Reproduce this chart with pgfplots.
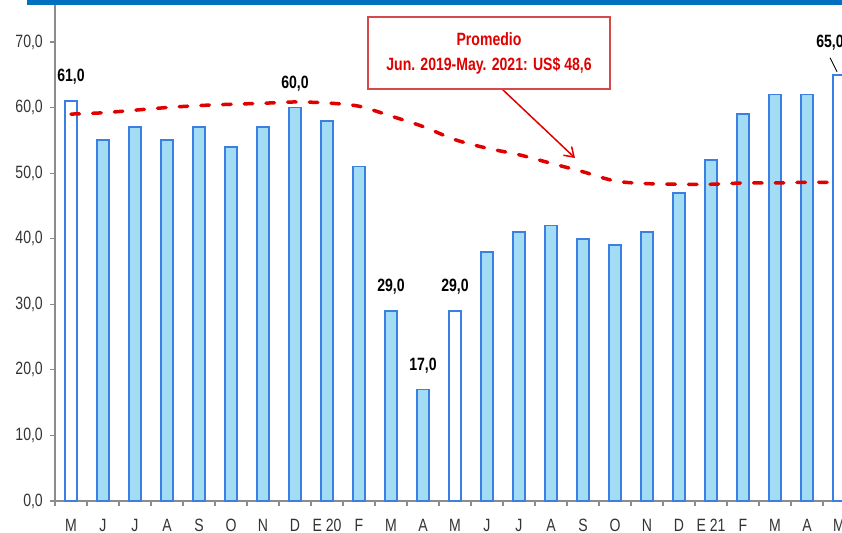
\documentclass[border=0pt]{standalone}
\usepackage{fontspec}
\setmainfont[FakeStretch=0.79]{Liberation Sans}
\usepackage{pgfplots}
\pgfplotsset{compat=1.18}
\usetikzlibrary{arrows.meta}
\pgfkeys{/pgf/number format/assume math mode=true}
\definecolor{barfill}{HTML}{A3DCF5}
\definecolor{barline}{HTML}{3A7FE3}
\definecolor{avgred}{HTML}{E00000}
\definecolor{boxred}{HTML}{D94848}
\definecolor{topblue}{HTML}{0070C0}
\definecolor{axgray}{HTML}{8C8C8C}
\definecolor{txtgray}{HTML}{333333}
\begin{document}
\fontsize{17.8}{21}\selectfont
\begin{tikzpicture}[x=1pt,y=1pt]
\begin{axis}[
  at={(55pt,31pt)}, anchor=south west,
  scale only axis, width=800pt, height=501pt,
  xmin=-0.5, xmax=24.5, ymin=0, ymax=76.4,
  clip=false,
  axis lines=left,
  axis line style={draw=axgray, line width=1.3pt, -},
  tick style={draw=axgray, line width=1.2pt},
  tick align=outside,
  major tick length=0pt, minor tick length=5pt,
  xtick={0,...,24},
  xticklabels={M,J,J,A,S,O,N,D,E 20,F,M,A,M,J,J,A,S,O,N,D,E 21,F,M,A,M},
  minor xtick={-0.5,0.5,...,24.5},
  ytick={0,10,...,70},
  minor ytick={0,10,...,70},
  yticklabel={\pgfmathprintnumber[fixed,fixed zerofill,precision=1,use comma]{\tick}},
  yticklabel style={anchor=east, inner sep=0pt, xshift=-12pt, text=txtgray},
  xticklabel style={anchor=north, inner sep=0pt, yshift=-18pt, text=txtgray},
]
\addplot[ybar, bar width=12pt, bar shift=0pt, fill=barfill, draw=barline, line width=1.8pt]
  coordinates {(1,55)(2,57)(3,55)(4,57)(5,54)(6,57)(7,60)(8,58)(9,51)(10,29)(11,17)
               (13,38)(14,41)(15,42)(16,40)(17,39)(18,41)(19,47)(20,52)(21,59)(22,62)(23,62)};
\addplot[ybar, bar width=12pt, bar shift=0pt, fill=white, draw=barline, line width=1.8pt]
  coordinates {(0,61)(12,29)(24,65)};
\addplot[avgred, line width=3.5pt, smooth, dash pattern=on 8.5pt off 13.2pt, line cap=round]
  coordinates {(0,59.0)(1,59.2)(2,59.6)(3,60.0)(4,60.3)(5,60.5)(6,60.65)(7,60.85)(8,60.7)
               (9,60.2)(10,58.7)(11,57.1)(12,55.1)(13,53.8)(14,52.8)(15,51.5)(16,50.2)
               (17,48.8)(18,48.4)(19,48.3)(20,48.3)(21,48.5)(22,48.5)(23,48.6)(24,48.6)};
\addplot[draw=none, mark=none, point meta=y,
  nodes near coords={\bfseries\pgfmathprintnumber[fixed,fixed zerofill,precision=1,use comma]{\pgfplotspointmeta}},
  nodes near coords style={anchor=center, yshift=24pt, text=black}]
  coordinates {(0,61)(7,60)(10,29)(11,17)(12,29)};
\addplot[draw=none, mark=none, point meta=y,
  nodes near coords={\bfseries\pgfmathprintnumber[fixed,fixed zerofill,precision=1,use comma]{\pgfplotspointmeta}},
  nodes near coords style={anchor=center, yshift=32pt, xshift=-9pt, text=black}]
  coordinates {(24,65)};
\draw[black, line width=0.9pt] (axis cs:24,65) ++(-2pt,3pt) -- ++(-7pt,14pt);
\end{axis}
\fill[topblue] (27,527) rectangle (842,532);
\draw[avgred, line width=1.5pt, -{Straight Barb[length=9pt,width=12pt]}] (502,443) -- (575,374);
\node[draw=boxred, line width=1.8pt, fill=white, minimum width=242pt, minimum height=72pt,
  align=center, text=avgred, font=\bfseries, inner sep=0pt] at (489,479)
  {Promedio\\[4pt]Jun. 2019-May. 2021: US\$ 48,6};
\pgfresetboundingbox
\path[use as bounding box] (0,0) rectangle (842,532);
\end{tikzpicture}
\end{document}
